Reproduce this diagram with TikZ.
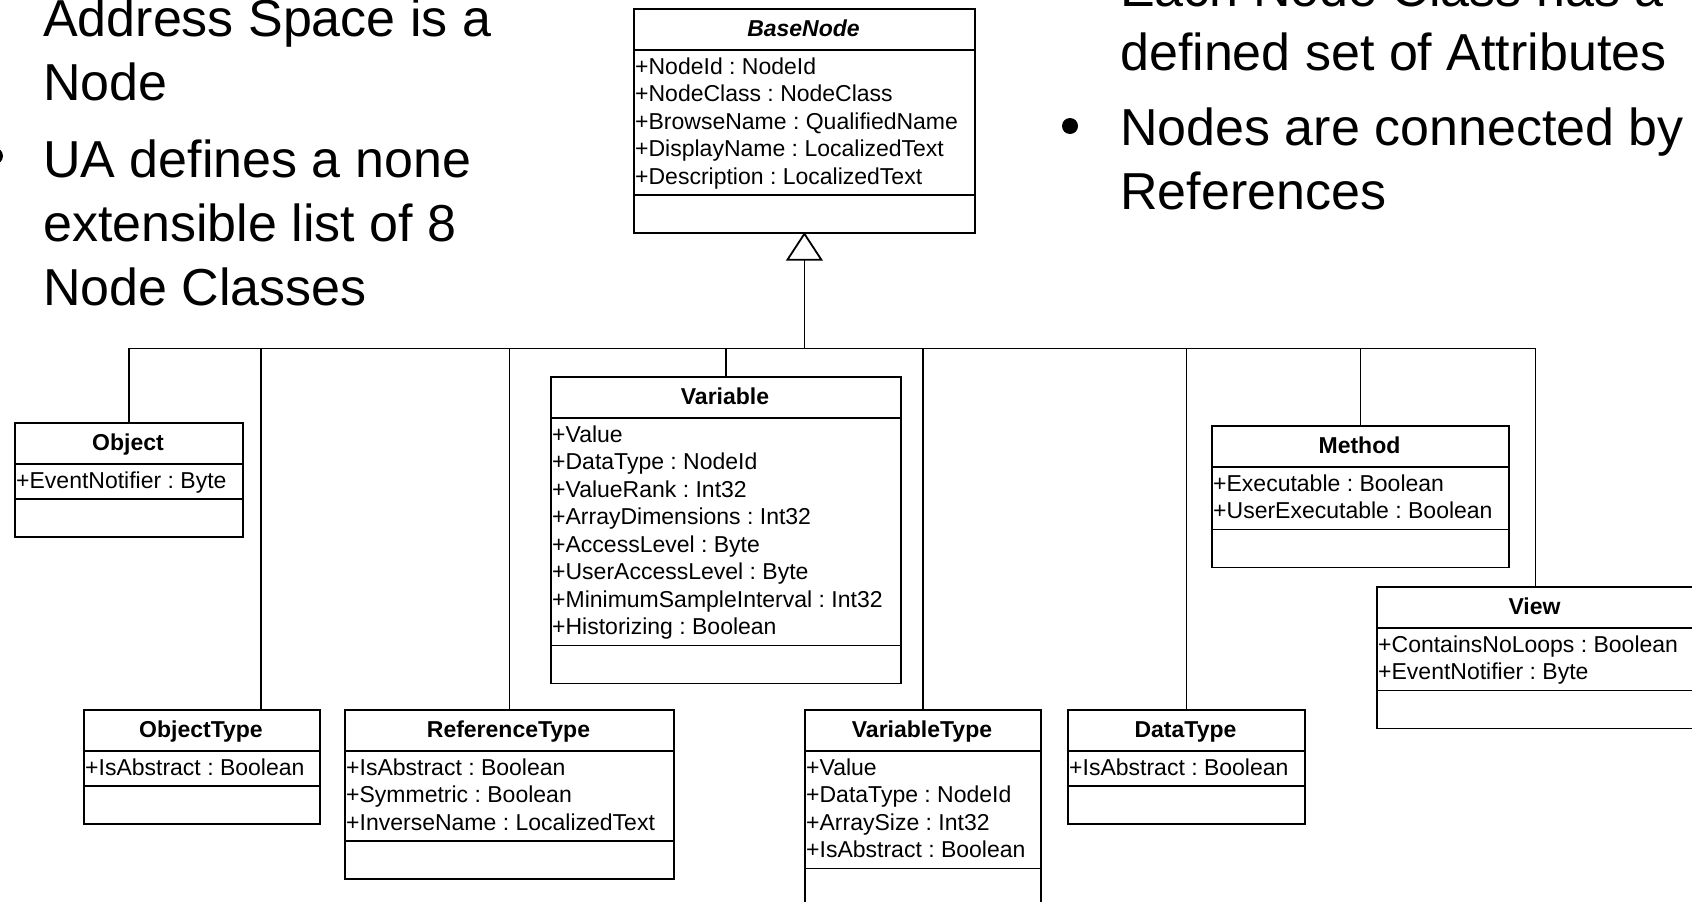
\documentclass[tikz,border=0pt]{standalone}
\usepackage{fontspec}
\setmainfont{Liberation Sans}
\frenchspacing

% One UML class box: name, left, top, width, title, number of attributes, attribute list
\newcommand\umlclass[7]{%
  \pgfmathsetmacro\clsHdr{#3+42}%
  \pgfmathsetmacro\clsSep{#3+42+#6*27.5+7.5}%
  \pgfmathsetmacro\clsH{42+#6*27.5+7.5+37}%
  \pgfmathsetmacro\clsMid{#2+#4/2}%
  \node[classbox, minimum width=#4pt, minimum height=\clsH pt] (#1) at (#2,#3) {};
  \draw[classrule] (#2,\clsHdr) -- ++(#4,0);
  \draw[classrule] (#2,\clsSep) -- ++(#4,0);
  \node[classtitle] (#1-name) at (\clsMid,#3+28) {#5};
  \foreach \a [count=\i] in {#7} {
    \node[attr] (#1-a\i) at (#2+2,\clsHdr+24+\i*27.5-27.5) {\a};
  }%
}

\begin{document}
\begin{tikzpicture}[x=1pt,y=-1pt,
  classbox/.style={draw, line width=1.8pt, inner sep=0pt, anchor=north west},
  classrule/.style={line width=1.8pt},
  classtitle/.style={font=\fontsize{23}{27.5}\selectfont\bfseries, inner sep=0pt, anchor=base},
  attr/.style={font=\fontsize{23}{27.5}\selectfont, inner sep=0pt, anchor=base west},
  link/.style={line width=1.3pt},
  slide/.style={font=\fontsize{52}{64}\selectfont, inner sep=0pt, anchor=base west},
  dot/.style={circle, fill, inner sep=0pt, minimum size=16pt}]
\useasboundingbox (0,0) rectangle (1692,902);

% bullet text, left column
\node[slide] (l1) at (43,36) {Address Space is a};
\node[slide] (l2) at (43,100) {Node};
\node[dot] (lb2) at (-5,156) {};
\node[slide] (l3) at (43,177) {UA defines a none};
\node[slide] (l4) at (43,241) {extensible list of 8};
\node[slide] (l5) at (43,305) {Node Classes};

% bullet text, right column
\node[slide] (r1) at (1120,6) {Each Node Class has a};
\node[slide] (r2) at (1120,70) {defined set of Attributes};
\node[dot] (rb2) at (1070,126) {};
\node[slide] (r3) at (1120,145) {Nodes are connected by};
\node[slide] (r4) at (1120,209) {References};

% classes
\umlclass{basenode}{633}{8}{341}{\itshape BaseNode}{5}{+NodeId : NodeId, +NodeClass : NodeClass, +BrowseName : QualifiedName, +DisplayName : LocalizedText, +Description : LocalizedText}
\umlclass{object}{14}{422}{228}{Object}{1}{+EventNotifier : Byte}
\umlclass{variable}{550}{376}{350}{Variable}{8}{+Value, +DataType : NodeId, +ValueRank : Int32, +ArrayDimensions : Int32, +AccessLevel : Byte, +UserAccessLevel : Byte, +MinimumSampleInterval : Int32, +Historizing : Boolean}
\umlclass{method}{1211}{425}{297}{Method}{2}{+Executable : Boolean, +UserExecutable : Boolean}
\umlclass{view}{1376}{586}{317}{View}{2}{+ContainsNoLoops : Boolean, +EventNotifier : Byte}
\umlclass{objecttype}{83}{709}{236}{ObjectType}{1}{+IsAbstract : Boolean}
\umlclass{referencetype}{344}{709}{329}{ReferenceType}{3}{+IsAbstract : Boolean, +Symmetric : Boolean, +InverseName : LocalizedText}
\umlclass{variabletype}{804}{709}{236}{VariableType}{4}{+Value, +DataType : NodeId, +ArraySize : Int32, +IsAbstract : Boolean}
\umlclass{datatype}{1067}{709}{237}{DataType}{1}{+IsAbstract : Boolean}

% generalization: hollow triangle under BaseNode, trunk and shared bus
\path (basenode.south) ++(0,26) coordinate (gen);
\path (gen) ++(0,89) coordinate (bus);
\draw[line width=1.8pt, fill=white] (basenode.south) -- ([xshift=-17pt]gen) -- ([xshift=17pt]gen) -- cycle;
\draw[line width=1.8pt] (gen) -- (bus);
\draw[link] (object.north) |- (bus);
\draw[link] ([xshift=59pt]objecttype.north) |- (bus);
\draw[link] (referencetype.north) |- (bus);
\draw[link] (variable.north) |- (bus);
\draw[link] (variabletype.north) |- (bus);
\draw[link] (datatype.north) |- (bus);
\draw[link] (method.north) |- (bus);
\draw[link] (view.north) |- (bus);
\end{tikzpicture}
\end{document}
